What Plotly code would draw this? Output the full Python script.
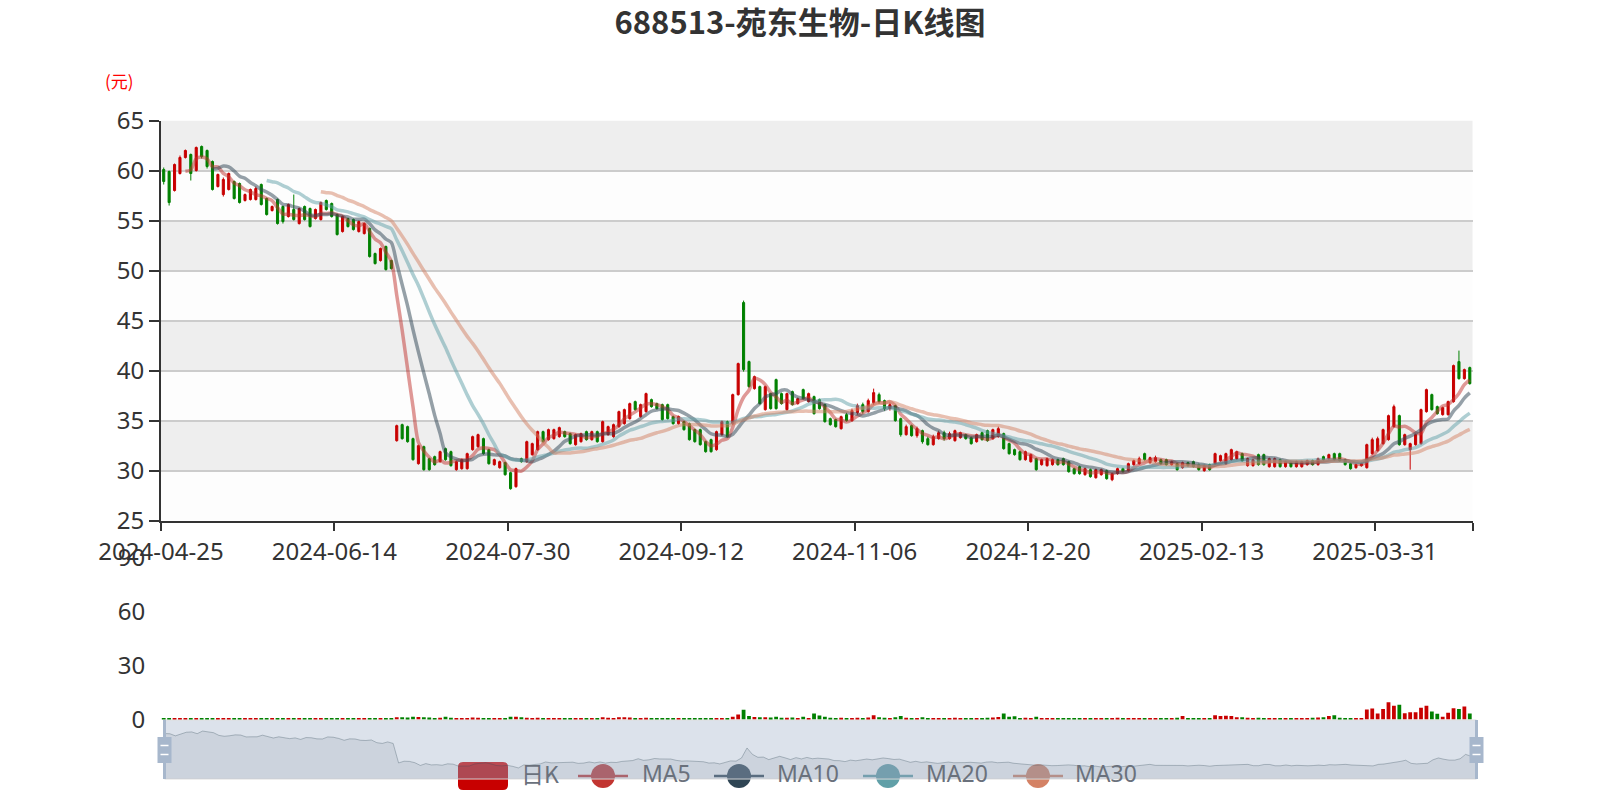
import plotly.graph_objects as go
import pandas as pd

# ---------------- data ----------------
title_text = "688513-苑东生物-日K线图"
tick_labels = ["2024-04-25", "2024-06-14", "2024-07-30", "2024-09-12",
               "2024-11-06", "2024-12-20", "2025-02-13", "2025-03-31"]
holidays = ["2024-05-01", "2024-05-02", "2024-05-03", "2024-06-10",
            "2024-09-16", "2024-09-17", "2024-10-01", "2024-10-02",
            "2024-10-03", "2024-10-04", "2024-10-07", "2025-01-01",
            "2025-01-28", "2025-01-29", "2025-01-30", "2025-01-31",
            "2025-02-03", "2025-02-04", "2025-04-04"]

open_p = [
    60.1, 59.9, 58.0, 59.7, 61.3, 61.6, 60.0, 62.4, 62.0, 60.9,
    58.4, 57.6, 58.1, 58.9, 58.7, 57.0, 57.1, 57.1, 58.6, 57.2,
    56.0, 57.1, 56.4, 55.4, 56.1, 54.7, 56.4, 56.2, 55.2, 55.1,
    57.0, 56.7, 55.6, 53.9, 55.2, 55.1, 53.9, 53.7, 54.2, 51.7,
    51.0, 52.4, 51.0,
    33.0, 34.6, 34.4, 33.2, 30.7, 32.4, 31.2, 31.4, 30.9, 32.2,
    31.9, 30.1, 30.2, 30.2, 32.1, 32.4, 33.2, 32.1, 30.6, 30.3,
    30.8, 29.8, 28.4, 31.2, 30.9, 31.6, 32.1, 33.9, 33.1, 33.2,
    33.4, 33.9, 33.7, 32.6, 32.9, 33.9, 33.1, 33.9, 32.9, 33.6,
    33.4, 34.4, 34.7, 35.2, 36.9, 35.4, 35.9, 37.1, 36.7, 36.6,
    36.6, 35.4, 34.7, 34.9, 34.7, 34.1, 34.1, 32.9, 33.1, 32.1, 33.6, 34.9,
    34.7, 37.6, 46.8, 40.9, 38.2, 38.4, 36.1, 37.7, 39.1, 37.7,
    36.1, 37.9, 36.7, 38.1, 36.9, 37.4, 37.1, 36.6, 35.2, 35.1, 34.2,
    35.6, 35.0, 35.8, 36.6, 35.9, 36.8, 37.6, 37.0, 36.2, 36.5,
    35.2, 33.6, 34.5, 33.5, 34.0, 33.2, 32.6, 33.2, 33.8, 33.2,
    33.0, 33.3, 33.6, 33.3, 32.9, 33.8, 34.0, 33.2, 33.4, 33.7,
    32.7, 32.1, 31.9, 31.1, 30.9, 31.2, 30.6, 30.5, 30.6, 31.1,
    31.2, 30.9, 30.2, 30.4, 29.6, 30.1, 29.3, 29.6, 30.0, 29.1,
    29.7, 30.2, 30.0, 30.6, 30.7, 31.7, 30.8, 30.9, 31.1, 31.1,
    30.6, 30.7, 30.3, 30.8, 30.9, 30.6, 30.0, 30.6, 30.7, 31.0,
    30.7, 31.1, 31.2, 31.7, 30.5, 30.5, 31.6, 31.6, 30.4, 30.4,
    31.1, 30.4, 30.8, 30.4, 30.4, 30.6, 31.0, 30.6, 31.4, 31.2,
    31.7, 31.7, 31.1, 30.7, 30.3, 30.5, 30.3, 31.7, 32.0, 32.7,
    33.1, 34.4, 35.5, 32.6, 32.1, 32.6, 32.7, 35.9, 37.6, 36.4,
    35.6, 35.6, 36.9, 40.9, 39.2, 40.3,
]
close_p = [
    58.9, 56.8, 60.6, 61.3, 62.0, 59.7, 62.3, 61.4, 60.4, 58.1,
    59.6, 59.1, 59.7, 57.2, 56.8, 57.6, 58.1, 58.2, 56.6, 55.6,
    56.4, 54.7, 54.9, 56.6, 55.1, 56.2, 55.1, 54.4, 56.1, 56.8,
    56.1, 55.4, 53.6, 55.4, 54.4, 54.1, 54.9, 54.7, 51.4, 50.7,
    52.2, 50.1, 50.2,
    34.5, 33.2, 32.9, 31.1, 32.5, 30.1, 30.1, 30.6, 31.9, 31.1,
    30.5, 30.9, 31.1, 31.7, 33.4, 33.6, 31.7, 30.7, 31.1, 30.9,
    29.6, 28.2, 30.2, 30.9, 32.9, 32.7, 33.9, 32.9, 34.1, 34.1,
    34.3, 33.4, 32.7, 33.6, 33.7, 33.1, 33.9, 32.9, 34.9, 34.4,
    34.6, 35.9, 36.1, 36.7, 36.1, 36.6, 37.7, 36.4, 36.2, 35.1,
    35.2, 34.7, 35.4, 34.1, 33.1, 32.9, 32.6, 31.9, 31.9, 33.9, 34.9, 33.4,
    37.6, 40.7, 40.1, 38.4, 39.4, 36.7, 38.4, 36.2, 36.2, 36.7,
    37.7, 36.6, 37.2, 37.2, 37.7, 35.7, 36.2, 34.9, 34.6, 34.4, 35.4,
    35.0, 36.0, 36.5, 35.9, 37.0, 37.8, 36.9, 36.2, 36.6, 35.0,
    33.6, 34.4, 33.5, 34.2, 32.9, 32.6, 33.4, 33.8, 33.2, 33.7,
    34.0, 33.8, 33.2, 32.7, 33.6, 33.1, 33.0, 34.1, 34.2, 32.2,
    31.7, 31.6, 31.1, 31.9, 31.6, 30.1, 31.1, 31.2, 31.1, 30.6,
    30.6, 29.9, 29.7, 29.7, 30.2, 29.4, 30.1, 30.1, 29.2, 29.7,
    30.2, 29.9, 30.7, 31.0, 31.2, 31.1, 31.3, 31.3, 30.7, 30.6,
    30.9, 30.1, 30.8, 30.5, 30.4, 30.1, 30.5, 30.1, 31.7, 31.5,
    31.7, 32.1, 31.9, 31.0, 31.2, 31.1, 30.6, 30.6, 31.2, 31.2,
    30.4, 30.9, 30.4, 30.9, 30.9, 31.0, 30.6, 31.2, 31.1, 31.6,
    31.1, 31.0, 30.6, 30.2, 30.6, 30.7, 32.6, 33.1, 33.2, 34.1,
    35.5, 36.4, 32.6, 33.6, 32.7, 33.6, 36.1, 38.1, 36.1, 35.7,
    36.3, 36.9, 40.5, 39.2, 40.1, 38.7,
]
high_p = [
    60.3, 60.0, 60.7, 61.5, 62.1, 61.7, 62.4, 62.5, 62.1, 61.0,
    59.7, 59.3, 59.8, 59.0, 58.8, 57.7, 58.2, 58.4, 58.7, 57.3,
    56.5, 57.2, 56.5, 56.7, 57.6, 56.3, 56.5, 56.3, 56.2, 56.9,
    57.1, 56.8, 55.7, 55.5, 55.3, 55.2, 55.0, 54.8, 54.3, 51.8,
    52.3, 52.5, 51.1,
    34.6, 34.7, 34.5, 33.3, 32.6, 32.5, 31.3, 31.5, 32.0, 32.3,
    32.0, 31.0, 31.2, 31.8, 33.5, 33.7, 33.3, 32.2, 31.2, 31.0,
    30.9, 29.9, 30.3, 31.3, 33.0, 32.8, 34.0, 34.0, 34.2, 34.2,
    34.4, 34.0, 33.8, 33.7, 33.8, 34.0, 34.0, 34.0, 35.0, 34.5,
    34.7, 36.0, 36.2, 36.8, 37.0, 36.7, 37.8, 37.2, 36.8, 36.7,
    36.7, 35.5, 35.5, 35.0, 34.8, 34.2, 34.2, 33.0, 33.2, 34.0, 35.0, 35.0,
    37.7, 40.8, 47.0, 41.0, 39.5, 38.5, 38.5, 37.8, 39.2, 37.8,
    37.8, 38.0, 37.3, 38.2, 37.8, 37.5, 37.2, 36.7, 35.3, 35.2, 35.5,
    35.8, 36.2, 36.7, 36.8, 37.2, 38.2, 37.8, 37.1, 36.8, 36.6,
    35.3, 34.6, 34.6, 34.4, 34.1, 33.4, 33.6, 34.0, 34.0, 33.9,
    34.1, 33.9, 33.7, 33.4, 33.7, 33.9, 34.1, 34.2, 34.4, 33.8,
    32.8, 32.2, 32.0, 32.0, 31.7, 31.3, 31.2, 31.3, 31.2, 31.2,
    31.3, 31.0, 30.3, 30.5, 30.3, 30.2, 30.2, 30.2, 30.1, 29.8,
    30.3, 30.3, 30.8, 31.1, 31.4, 31.8, 31.4, 31.5, 31.2, 31.2,
    31.0, 30.8, 30.9, 30.9, 31.0, 30.7, 30.6, 30.7, 31.8, 31.6,
    31.8, 32.2, 32.0, 31.8, 31.3, 31.2, 31.7, 31.7, 31.3, 31.3,
    31.2, 31.0, 30.9, 31.0, 31.0, 31.1, 31.1, 31.3, 31.5, 31.7,
    31.8, 31.8, 31.2, 30.8, 30.7, 30.8, 32.7, 33.3, 33.4, 34.2,
    35.6, 36.6, 35.6, 33.7, 32.8, 33.7, 36.2, 38.2, 37.7, 36.5,
    36.4, 37.0, 40.6, 42.0, 40.2, 40.4,
]
low_p = [
    58.6, 56.5, 57.9, 59.6, 61.2, 59.0, 59.9, 61.2, 60.2, 58.0,
    58.3, 57.4, 58.0, 57.1, 56.7, 56.9, 57.0, 57.0, 56.5, 55.5,
    55.9, 54.6, 54.7, 55.3, 55.0, 54.6, 55.0, 54.3, 55.1, 55.0,
    56.0, 55.3, 53.5, 53.8, 54.3, 54.0, 53.8, 53.6, 51.3, 50.6,
    50.9, 50.0, 50.1,
    32.9, 33.1, 32.8, 31.0, 30.6, 30.0, 30.0, 30.5, 30.8, 31.0,
    30.4, 30.0, 30.1, 30.1, 32.0, 32.3, 31.6, 30.6, 30.5, 30.2,
    29.5, 28.1, 28.3, 30.8, 30.8, 31.5, 32.0, 32.8, 33.0, 33.1,
    33.3, 33.3, 32.6, 32.5, 32.8, 33.0, 33.0, 32.8, 32.8, 33.5,
    33.3, 34.3, 34.6, 35.1, 36.0, 35.3, 35.8, 36.3, 36.1, 35.0,
    35.1, 34.6, 34.6, 34.0, 33.0, 32.8, 32.5, 31.8, 31.8, 32.0, 33.5, 33.3,
    34.6, 37.5, 39.9, 38.3, 38.1, 36.6, 36.0, 36.1, 36.1, 36.6,
    36.0, 36.5, 36.6, 37.1, 36.8, 35.6, 36.1, 34.8, 34.5, 34.3, 34.1,
    34.9, 34.9, 35.6, 35.7, 35.8, 36.6, 36.7, 36.0, 36.0, 34.9,
    33.4, 33.5, 33.4, 33.3, 32.7, 32.5, 32.5, 33.1, 33.0, 33.1,
    32.9, 33.2, 33.1, 32.6, 32.8, 33.0, 32.9, 33.1, 33.3, 32.1,
    31.6, 31.5, 31.0, 31.0, 30.8, 30.0, 30.5, 30.4, 30.5, 30.5,
    30.5, 29.8, 29.6, 29.6, 29.5, 29.3, 29.2, 29.5, 29.1, 28.95,
    29.6, 29.8, 29.9, 30.5, 30.6, 31.0, 30.7, 30.8, 30.6, 30.5,
    30.5, 30.0, 30.2, 30.4, 30.3, 30.0, 29.9, 30.0, 30.6, 30.9,
    30.6, 31.0, 31.1, 30.9, 30.4, 30.4, 30.5, 30.5, 30.3, 30.3,
    30.3, 30.3, 30.3, 30.3, 30.3, 30.5, 30.5, 30.5, 31.0, 31.1,
    31.0, 30.9, 30.5, 30.1, 30.2, 30.4, 30.2, 31.6, 31.9, 32.6,
    33.0, 34.3, 32.5, 32.5, 30.1, 32.5, 32.6, 35.8, 36.0, 35.6,
    35.5, 35.5, 36.8, 39.1, 39.1, 38.6,
]
volume = [
    0.9, 0.8, 0.7, 0.7, 0.6, 0.8, 0.9, 0.8, 0.7, 0.7,
    0.5, 0.5, 0.5, 0.6, 0.5, 0.4, 0.4, 0.5, 0.5, 0.4,
    0.4, 0.5, 0.5, 0.4, 0.6, 0.5, 0.4, 0.4, 0.4, 0.5,
    0.4, 0.4, 0.6, 0.5, 0.4, 0.4, 0.4, 0.4, 0.7, 0.6,
    0.5, 0.7, 0.6,
    1.3, 1.2, 1.1, 1.5, 1.4, 1.3, 1.1, 0.9, 1.0, 1.5, 1.0,
    0.8, 0.7, 0.8, 1.1, 1.0, 0.9, 0.8, 0.6, 0.6, 0.9,
    1.6, 1.5, 1.3, 1.0,
    0.9, 1.0, 0.8, 0.8, 0.7, 0.8, 0.6, 0.7, 0.6, 0.6, 0.7, 0.6, 0.7,
    1.2, 1.0, 0.9, 1.3, 1.2, 1.1, 0.9, 0.8, 1.0, 0.8,
    0.7, 0.9, 0.8, 0.6, 0.6, 0.7, 0.8, 0.9, 0.8, 0.9, 0.8, 0.7, 0.9, 0.8,
    1.6, 2.8, 5.4, 2.0, 1.4, 1.3,
    1.2, 1.1, 1.6, 1.0, 1.0, 1.1, 0.8, 1.5, 0.9, 3.4, 2.2, 1.6, 1.0, 0.9, 1.0,
    0.9, 0.9, 1.0, 0.8, 1.1, 2.4, 1.3, 1.0, 0.8, 1.3,
    1.9, 1.0, 0.9, 0.8, 1.2, 0.8, 0.9, 0.8, 0.7, 0.8,
    1.0, 0.8, 0.7, 0.8, 0.9, 0.7, 1.0, 1.1, 1.4, 3.4, 1.6, 1.8, 0.9, 1.0, 0.8,
    1.5, 0.8, 0.7, 0.7, 0.8, 0.6, 0.9, 0.8, 0.7, 0.7,
    0.6, 0.7, 0.7, 0.6, 0.8, 1.0, 0.7, 0.9, 0.8, 0.7,
    0.8, 0.7, 0.7, 0.6, 0.7, 0.6, 1.0, 1.9, 0.9, 0.8,
    0.7, 0.8, 0.7, 2.3, 2.0, 2.1, 1.9, 1.3, 1.2, 1.0,
    0.9, 1.0, 0.8, 0.9, 0.8, 0.7, 0.8, 0.7, 0.8, 0.9,
    0.8, 1.0, 1.1, 1.2, 1.9, 2.4, 1.0, 0.8, 0.9, 0.7, 0.8,
    5.6, 6.1, 3.4, 5.8, 9.6, 7.6, 8.2, 3.5, 4.1, 4.0,
    6.6, 7.7, 4.5, 3.2, 1.5, 3.7, 6.3, 5.9, 7.2, 3.4,
]
ma_periods = [5, 10, 20, 30]
ma_names = ["MA5", "MA10", "MA20", "MA30"]

N = len(close_p)
assert len(open_p) == N and len(high_p) == N and len(low_p) == N and len(volume) == N

# trading-day categories
dates = [d.strftime("%Y-%m-%d") for d in
         pd.bdate_range("2024-04-25", "2025-06-30", freq="C", holidays=holidays)][:N]
idx = list(range(N))
tick_idx = [dates.index(t) if t in dates else 32 * k for k, t in enumerate(tick_labels)]

# ---------------- style ----------------
W, H = 1600, 800
def px(v):
    return v / W
def py(v):
    return 1 - v / H

UP, DOWN = "#c80000", "#008000"
MA_COLORS = ["#c23531", "#2f4554", "#61a0a8", "#d48265"]
FONT = "Noto Sans, Noto Sans CJK SC, sans-serif"
CJK = "Noto Sans CJK SC, Noto Sans, sans-serif"

X0, X1 = px(161), px(1472.5)

fig = go.Figure()

fig.add_trace(go.Candlestick(
    x=idx, open=open_p, high=high_p, low=low_p, close=close_p,
    text=dates, name="日K", xaxis="x", yaxis="y",
    increasing=dict(line=dict(color=UP, width=1), fillcolor=UP),
    decreasing=dict(line=dict(color=DOWN, width=1), fillcolor=DOWN),
    whiskerwidth=0, showlegend=False,
))

close_s = pd.Series(close_p)
for p, name, col in zip(ma_periods, ma_names, MA_COLORS):
    ma = close_s.rolling(p).mean().round(3)
    fig.add_trace(go.Scatter(
        x=idx, y=ma, mode="lines", name=name, xaxis="x", yaxis="y",
        line=dict(color=col, width=3.5, shape="spline", smoothing=0.8),
        opacity=0.5, showlegend=False, hoverinfo="skip",
    ))

vol_colors = [UP if c >= o else DOWN for o, c in zip(open_p, close_p)]
fig.add_trace(go.Bar(
    x=idx, y=volume, marker=dict(color=vol_colors, line=dict(width=0)),
    xaxis="x2", yaxis="y2", showlegend=False, name="成交量",
))

# data shadow inside the zoom slider (first value dimension = open)
omin, omax = min(open_p), max(open_p)
pad = (omax - omin) * 0.3
fig.add_trace(go.Scatter(
    x=idx, y=open_p, mode="lines", xaxis="x3", yaxis="y3",
    line=dict(color="rgba(47,69,84,0.3)", width=1),
    fill="tozeroy", fillcolor="rgba(47,69,84,0.09)",
    showlegend=False, hoverinfo="skip",
))

shapes = []
# split areas
for k, lo in enumerate(range(25, 65, 5)):
    shapes.append(dict(type="rect", xref="paper", yref="y", x0=X0, x1=X1,
                       y0=lo, y1=lo + 5, line=dict(width=0), layer="below",
                       fillcolor="#fdfdfd" if k % 2 == 0 else "#eeeeee"))

# legend icons (drawn under the slider)
def rrect(x0, y0, x1, y1, r):
    return ("M {a},{b} L {c},{b} Q {x1},{b} {x1},{d} L {x1},{e} Q {x1},{f} {c},{f} "
            "L {a},{f} Q {x0},{f} {x0},{e} L {x0},{d} Q {x0},{b} {a},{b} Z").format(
        a=px(x0 + r), c=px(x1 - r), b=py(y0), d=py(y0 + r), e=py(y1 - r), f=py(y1),
        x0=px(x0), x1=px(x1))

LEG_Y = 776
shapes.append(dict(type="path", xref="paper", yref="paper",
                   path=rrect(458, 762, 508, 790, 5), fillcolor=UP,
                   line=dict(width=0), layer="below"))
leg_line_x = [578, 714, 863, 1013]
leg_text_x = [640, 775, 924, 1073]
for lx, col in zip(leg_line_x, MA_COLORS):
    shapes.append(dict(type="line", xref="paper", yref="paper", x0=px(lx), x1=px(lx + 50),
                       y0=py(LEG_Y), y1=py(LEG_Y), line=dict(color=col, width=2.5),
                       layer="below"))
    shapes.append(dict(type="circle", xref="paper", yref="paper",
                       x0=px(lx + 13), x1=px(lx + 37), y0=py(LEG_Y - 12), y1=py(LEG_Y + 12),
                       fillcolor=col, line=dict(width=0), layer="below"))

# slider background (semi-transparent, over legend icons)
SL_X0, SL_X1, SL_Y0, SL_Y1 = 164.5, 1476.5, 720, 779
shapes.append(dict(type="rect", xref="paper", yref="paper",
                   x0=px(SL_X0), x1=px(SL_X1), y0=py(SL_Y1), y1=py(SL_Y0),
                   fillcolor="rgba(167,183,204,0.4)", line=dict(color="#dddddd", width=1),
                   layer="below"))
# handles
for cx in (SL_X0, SL_X1):
    shapes.append(dict(type="rect", xref="paper", yref="paper",
                       x0=px(cx - 1.5), x1=px(cx + 1.5), y0=py(SL_Y1), y1=py(SL_Y0),
                       fillcolor="#a7b7cc", line=dict(width=0), layer="above"))
    shapes.append(dict(type="rect", xref="paper", yref="paper",
                       x0=px(cx - 7), x1=px(cx + 7), y0=py(763), y1=py(737),
                       fillcolor="#a7b7cc", line=dict(width=0), layer="above"))
    for yy in (745.5, 754.5):
        shapes.append(dict(type="line", xref="paper", yref="paper",
                           x0=px(cx - 4), x1=px(cx + 4), y0=py(yy), y1=py(yy),
                           line=dict(color="white", width=1.5), layer="above"))

annotations = [
    dict(text="(元)", xref="paper", yref="paper", x=px(119.5), y=py(80.5),
         showarrow=False, font=dict(family=CJK, size=17, color="#ff0000"),
         xanchor="center", yanchor="middle"),
    dict(text="日K", xref="paper", yref="paper", x=px(519), y=py(773),
         showarrow=False, font=dict(family=CJK, size=23, color="#6a717c"),
         xanchor="left", yanchor="middle"),
]
for tx, name in zip(leg_text_x, ma_names):
    annotations.append(dict(text=name, xref="paper", yref="paper", x=px(tx), y=py(773),
                            showarrow=False, font=dict(family=FONT, size=23, color="#6a717c"),
                            xanchor="left", yanchor="middle"))

axis_font = dict(family=FONT, size=24, color="#333333")

fig.update_layout(
    width=W, height=H, autosize=False,
    margin=dict(l=0, r=0, t=0, b=0, pad=0, autoexpand=False),
    paper_bgcolor="white", plot_bgcolor="rgba(0,0,0,0)",
    title=dict(text="<b>" + title_text + "</b>", x=0.5, xanchor="center",
               y=py(23), yanchor="middle", automargin=False,
               font=dict(family=CJK, size=31, color="#333333")),
    showlegend=False,
    boxgap=0.45, bargap=0.3,
    hovermode="closest",
    xaxis=dict(domain=[X0, X1], anchor="y", range=[-0.5, N - 0.5],
               tickmode="array",
               tickvals=[i - 0.5 for i in tick_idx] + [N - 0.5],
               ticktext=tick_labels + [""],
               ticks="outside", ticklen=8, tickwidth=2, tickcolor="#333333",
               showline=True, linecolor="#333333", linewidth=2,
               showgrid=False, zeroline=False, tickfont=axis_font, automargin=False,
               rangeslider=dict(visible=False), fixedrange=True),
    yaxis=dict(domain=[py(520.7), py(120.5)], anchor="x", range=[25, 65], dtick=5,
               tick0=25, ticks="outside", ticklen=10, tickwidth=2, tickcolor="#333333",
               showline=True, linecolor="#333333", linewidth=2,
               showgrid=True, gridcolor="#cccccc", gridwidth=1.5, automargin=False,
               zeroline=False, tickfont=axis_font, fixedrange=True),
    xaxis2=dict(domain=[X0, X1], anchor="y2", range=[-0.5, N - 0.5], visible=False,
                automargin=False, fixedrange=True),
    yaxis2=dict(domain=[py(719.5), py(558)], anchor="x2", range=[0, 90],
                tickmode="array", tickvals=[0, 30, 60, 90],
                ticks="outside", ticklen=10, tickcolor="rgba(0,0,0,0)",
                showline=False, showgrid=False, zeroline=False, automargin=False,
                tickfont=axis_font, fixedrange=True),
    xaxis3=dict(domain=[px(SL_X0), px(SL_X1)], anchor="y3", range=[0, N - 1],
                visible=False, automargin=False, fixedrange=True),
    yaxis3=dict(domain=[py(SL_Y1), py(SL_Y0)], anchor="x3", automargin=False,
                range=[omin - pad, omax + pad], visible=False, fixedrange=True),
    shapes=shapes,
    annotations=annotations,
)

fig.write_html("out.html", config={"displayModeBar": False},
               post_script="document.body.style.margin='0';document.body.style.padding='0';")
